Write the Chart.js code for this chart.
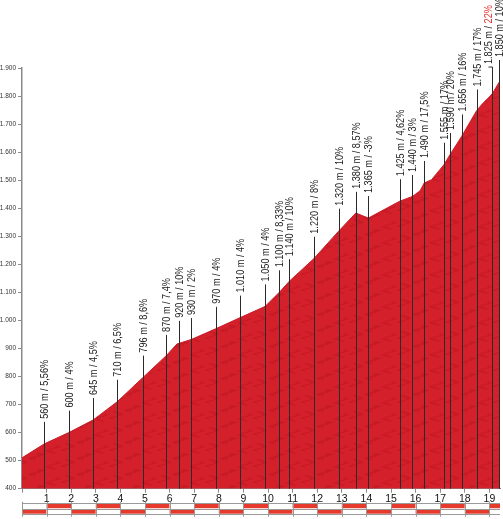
<!DOCTYPE html>
<html>
<head>
<meta charset="utf-8">
<script src="https://cdn.jsdelivr.net/npm/chart.js@4.4.1/dist/chart.umd.min.js"></script>
<style>
  html, body { margin: 0; padding: 0; background: #fff; }
  canvas { display: block; }
</style>
</head>
<body>
<canvas id="chart" width="503" height="519"></canvas>
<script>
// Profile of the climb (km from start, altitude in m).
const profileKm = [0, 0.91, 1.90, 2.89, 3.87, 4.91, 5.86, 6.30, 6.88, 7.87, 8.87, 9.88, 10.46, 10.87,
  11.86, 12.89, 13.57, 14.08, 15.35, 15.87, 16.18, 16.35, 16.65, 16.99, 17.15, 17.39, 17.87,
  18.48, 18.69, 19.03, 19.13, 19.40, 19.43];
const profileElev = [510, 560, 600, 645, 710, 796, 874, 916, 932, 970, 1010, 1050, 1100, 1140,
  1220, 1320, 1383, 1365, 1425, 1442, 1462, 1490, 1502, 1538, 1555, 1590, 1656,
  1748, 1770, 1800, 1810, 1850, 1852];

// Marked points with their altitude and gradient.
const markerKm = [0.91, 1.90, 2.89, 3.87, 4.91, 5.86, 6.38, 6.88, 7.87, 8.87, 9.88, 10.46, 10.87,
  11.86, 12.89, 13.57, 14.08, 15.35, 15.87, 16.35, 17.15, 17.39, 17.87, 18.48, 19.12, 19.40];
const markerElev = [560, 600, 645, 710, 796, 870, 920, 930, 970, 1010, 1050, 1100, 1140,
  1220, 1320, 1380, 1365, 1425, 1440, 1490, 1555, 1590, 1656, 1745, 1825, 1850];
const markerGrade = ['5,56%', '4%', '4,5%', '6,5%', '8,6%', '7,4%', '10%', '2%', '4%', '4%', '4%', '8,33%', '10%',
  '8%', '10%', '8,57%', '-3%', '4,62%', '3%', '17,5%', '17%', '20%', '16%', '17%', '22%', '10%'];

// Axis ticks.
const kmTicks = [0, 1, 2, 3, 4, 5, 6, 7, 8, 9, 10, 11, 12, 13, 14, 15, 16, 17, 18, 19];
const kmLabels = ['', '1', '2', '3', '4', '5', '6', '7', '8', '9', '10', '11', '12', '13', '14', '15', '16', '17', '18', '19'];
const elevTicks = [400, 500, 600, 700, 800, 900, 1000, 1100, 1200, 1300, 1400, 1500, 1600, 1700, 1800, 1900];
const elevLabels = ['400', '500', '600', '700', '800', '900', '1.000', '1.100', '1.200', '1.300', '1.400',
  '1.500', '1.600', '1.700', '1.800', '1.900'];

const FONT = '"Liberation Sans", Arial, sans-serif';

// Small mottled texture for the red area.
function makeTexture() {
  const w = 48, h = 32;
  const c = document.createElement('canvas');
  c.width = w; c.height = h;
  const g = c.getContext('2d');
  const img = g.createImageData(w, h);
  for (let y = 0; y < h; y++) {
    for (let x = 0; x < w; x++) {
      const v = Math.sin(2 * Math.PI * x / 16 + 1.8 * Math.sin(2 * Math.PI * y / 8)) +
                Math.sin(2 * Math.PI * (y / 16 + x / 48));
      const i = (y * w + x) * 4;
      const dark = v > 1.1;
      img.data[i] = dark ? 200 : 212;
      img.data[i + 1] = dark ? 27 : 32;
      img.data[i + 2] = dark ? 37 : 42;
      img.data[i + 3] = 255;
    }
  }
  g.putImageData(img, 0, 0);
  return g.createPattern(c, 'repeat');
}

const maxGrade = Math.max(...markerGrade.map(s => parseFloat(s.replace(',', '.'))));

function fmtElev(v) {
  return v >= 1000 ? Math.floor(v / 1000) + '.' + String(v % 1000).padStart(3, '0') : String(v);
}

// Vertical marker lines with rotated, condensed labels.
const markerPlugin = {
  id: 'markers',
  afterDatasetsDraw(chart) {
    const ctx = chart.ctx;
    const xs = chart.scales.x, ys = chart.scales.y;
    const bottom = chart.chartArea.bottom;
    ctx.save();
    ctx.font = '10.5px ' + FONT;
    ctx.lineWidth = 1;
    markerKm.forEach((km, i) => {
      const x = Math.round(xs.getPixelForValue(km)) + 0.5;
      const top = ys.getPixelForValue(markerElev[i]) - 22;
      // crowded label near the summit is pushed a little to the left
      const shift = (i === markerKm.length - 2) ? 4 : 0;
      ctx.strokeStyle = '#2b2b2b';
      ctx.beginPath();
      ctx.moveTo(x, bottom);
      ctx.lineTo(x, top);
      if (shift) ctx.lineTo(x - shift, top);
      ctx.stroke();

      const main = fmtElev(markerElev[i]) + ' m / ';
      const grade = markerGrade[i];
      const isMax = parseFloat(grade.replace(',', '.')) === maxGrade;
      ctx.save();
      ctx.translate(x - shift, top - 3);
      ctx.rotate(-Math.PI / 2);
      ctx.scale(0.87, 1);
      ctx.textAlign = 'left';
      ctx.textBaseline = 'middle';
      ctx.fillStyle = '#1a1a1a';
      ctx.fillText(main, 0, 0.5);
      ctx.fillStyle = isMax ? '#e62420' : '#1a1a1a';
      ctx.fillText(grade, ctx.measureText(main).width, 0.5);
      ctx.restore();
    });
    ctx.restore();
  }
};

// Alternating kilometre strip under the axis.
const stripPlugin = {
  id: 'kmStrip',
  afterDraw(chart) {
    const ctx = chart.ctx;
    const xs = chart.scales.x;
    const b = chart.chartArea.bottom;
    const last = profileKm[profileKm.length - 1];
    ctx.save();
    ctx.lineWidth = 1;
    ctx.strokeStyle = '#9a9a9a';
    for (let k = 0; k < last; k++) {
      const x0 = xs.getPixelForValue(k);
      const x1 = xs.getPixelForValue(Math.min(k + 1, last));
      const topRed = k % 2 === 1;
      ctx.fillStyle = topRed ? '#e63a2c' : '#ffffff';
      ctx.fillRect(x0, b + 15, x1 - x0, 4.5);
      ctx.fillStyle = topRed ? '#ffffff' : '#e63a2c';
      ctx.fillRect(x0, b + 20.5, x1 - x0, 4.5);
    }
    const x0 = xs.getPixelForValue(0), xe = xs.getPixelForValue(last);
    ctx.beginPath();
    [b + 14.5, b + 20, b + 25.5].forEach(y => {
      ctx.moveTo(x0, Math.round(y) + 0.5);
      ctx.lineTo(xe, Math.round(y) + 0.5);
    });
    kmTicks.forEach(k => {
      const x = Math.round(xs.getPixelForValue(k)) + 0.5;
      ctx.moveTo(x, b + 13);
      ctx.lineTo(x, b + 28);
    });
    ctx.stroke();
    ctx.restore();
  }
};

const chart = new Chart(document.getElementById('chart'), {
  type: 'line',
  data: {
    datasets: [{
      data: profileKm.map((km, i) => ({ x: km, y: profileElev[i] })),
      backgroundColor: makeTexture(),
      borderColor: '#c81e2a',
      borderWidth: 1,
      fill: 'start',
      pointRadius: 0,
      tension: 0
    }]
  },
  options: {
    responsive: false,
    devicePixelRatio: 1,
    animation: false,
    layout: { padding: { top: 68, right: 3, left: 0, bottom: 0 } },
    plugins: { legend: { display: false }, tooltip: { enabled: false } },
    scales: {
      x: {
        type: 'linear',
        min: 0,
        max: profileKm[profileKm.length - 1],
        afterBuildTicks: s => { s.ticks = kmTicks.map(v => ({ value: v })); },
        afterFit: s => { s.height = 30.3; },
        ticks: {
          autoSkip: false,
          maxRotation: 0,
          padding: 0,
          color: '#111',
          font: { family: FONT, size: 10.5 },
          callback: (v, i) => kmLabels[i]
        },
        grid: { drawOnChartArea: false, drawTicks: true, tickLength: 4, color: '#8a8a8a' },
        border: { display: true, color: '#8a8a8a', width: 1 }
      },
      y: {
        min: 400,
        max: 1900,
        afterBuildTicks: s => { s.ticks = elevTicks.map(v => ({ value: v })); },
        afterFit: s => { s.width = 22; },
        ticks: {
          autoSkip: false,
          padding: 2,
          color: '#333',
          font: { family: FONT, size: 6.5 },
          callback: (v, i) => elevLabels[i]
        },
        grid: { drawOnChartArea: false, drawTicks: true, tickLength: 4, color: '#8a8a8a' },
        border: { display: true, color: '#8a8a8a', width: 1.5 }
      }
    }
  },
  plugins: [markerPlugin, stripPlugin]
});
</script>
</body>
</html>
